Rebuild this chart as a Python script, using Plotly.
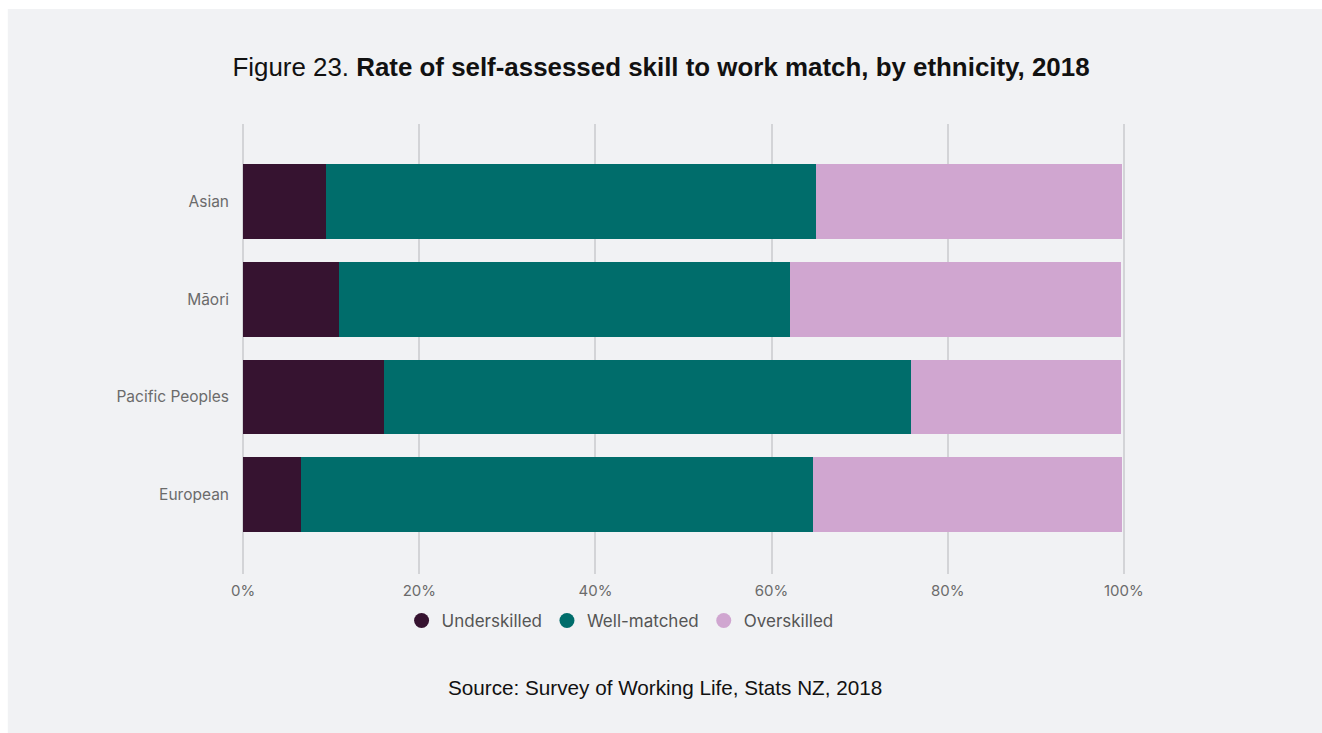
import plotly.graph_objects as go

# Self-assessed skill to work match by ethnicity, 2018 (percent of workers)
ethnicities = ["Asian", "Māori", "Pacific Peoples", "European"]
underskilled = [9.4, 10.9, 16.0, 6.6]
well_matched = [55.7, 51.2, 59.8, 58.1]
overskilled = [34.7, 37.6, 23.9, 35.1]

series_names = ["Underskilled", "Well-matched", "Overskilled"]
series_colors = ["#361330", "#006d6b", "#d0a6d0"]
x_ticks = [0, 20, 40, 60, 80, 100]
x_tick_labels = ["0%", "20%", "40%", "60%", "80%", "100%"]

PANEL = "#f1f2f4"
W, H = 1322, 733

fig = go.Figure()

for name, vals, color in zip(series_names, [underskilled, well_matched, overskilled], series_colors):
    fig.add_trace(go.Bar(
        y=ethnicities, x=vals, name=name, orientation="h",
        marker=dict(color=color, line=dict(width=0)),
        showlegend=False, hovertemplate="%{y}: %{x}%<extra>" + name + "</extra>",
    ))

# legend entries drawn as round swatches
for name, color in zip(series_names, series_colors):
    fig.add_trace(go.Scatter(
        x=[None], y=[None], mode="markers", name=name,
        marker=dict(symbol="circle", size=15, color=color),
    ))

# plot-area geometry in pixels (x range padded so the 0% and 100% gridlines are kept)
X_MIN, X_MAX = -0.25, 100.25
L, R, T, B = 241.1, 1125.7, 124, 574
pw, ph = R - L, B - T

def px_x(v):
    return (v - L) / pw

def px_y(v):
    return (B - v) / ph

fig.update_layout(
    width=W, height=H,
    margin=dict(l=L, r=W - R, t=T, b=H - B, pad=0),
    paper_bgcolor=PANEL, plot_bgcolor=PANEL,
    barmode="stack", bargap=0.235,
    font=dict(family="Inter, Liberation Sans, Arial, sans-serif", color="#666666"),
    title=dict(
        text="Figure 23. <b>Rate of self-assessed skill to work match, by ethnicity, 2018</b>",
        font=dict(family="Liberation Sans, Arial, sans-serif", size=25.9, color="#111111"),
        x=0.5, xref="container", xanchor="center",
        y=(H - 67) / H, yref="container", yanchor="middle",
    ),
    xaxis=dict(
        range=[X_MIN, X_MAX], tickmode="array", tickvals=x_ticks, ticktext=x_tick_labels,
        showgrid=True, gridcolor="#d3d4d7", gridwidth=1.5,
        zeroline=False, showline=False, ticks="",
        tickfont=dict(size=15, color="#6b6b6b"), ticklabelstandoff=6,
        fixedrange=True,
    ),
    yaxis=dict(
        type="category", categoryorder="array", categoryarray=ethnicities,
        range=[3.81, -0.79], showgrid=False, zeroline=False, showline=False, ticks="",
        tickfont=dict(size=15.5, color="#6b6b6b"), ticklabelstandoff=11,
        fixedrange=True,
    ),
    legend=dict(
        orientation="h", x=px_x(620), xanchor="center", y=px_y(621), yanchor="middle",
        font=dict(size=17, color="#555555"), bgcolor="rgba(0,0,0,0)",
        itemwidth=30, traceorder="normal",
    ),
    showlegend=True,
    shapes=[
        # white frame strips around the grey panel
        dict(type="rect", xref="paper", yref="paper", x0=px_x(0), x1=px_x(8), y0=px_y(H), y1=px_y(0),
             fillcolor="white", line=dict(width=0), layer="above"),
        dict(type="rect", xref="paper", yref="paper", x0=px_x(0), x1=px_x(W), y0=px_y(9), y1=px_y(0),
             fillcolor="white", line=dict(width=0), layer="above"),
    ],
    annotations=[
        dict(text="Source: Survey of Working Life, Stats NZ, 2018",
             xref="paper", yref="paper", x=px_x(665), y=px_y(687),
             xanchor="center", yanchor="middle", showarrow=False,
             font=dict(family="Liberation Sans, Arial, sans-serif", size=20.7, color="#111111")),
    ],
)

fig.write_html("out.html", include_plotlyjs=True, config={"displayModeBar": False})
